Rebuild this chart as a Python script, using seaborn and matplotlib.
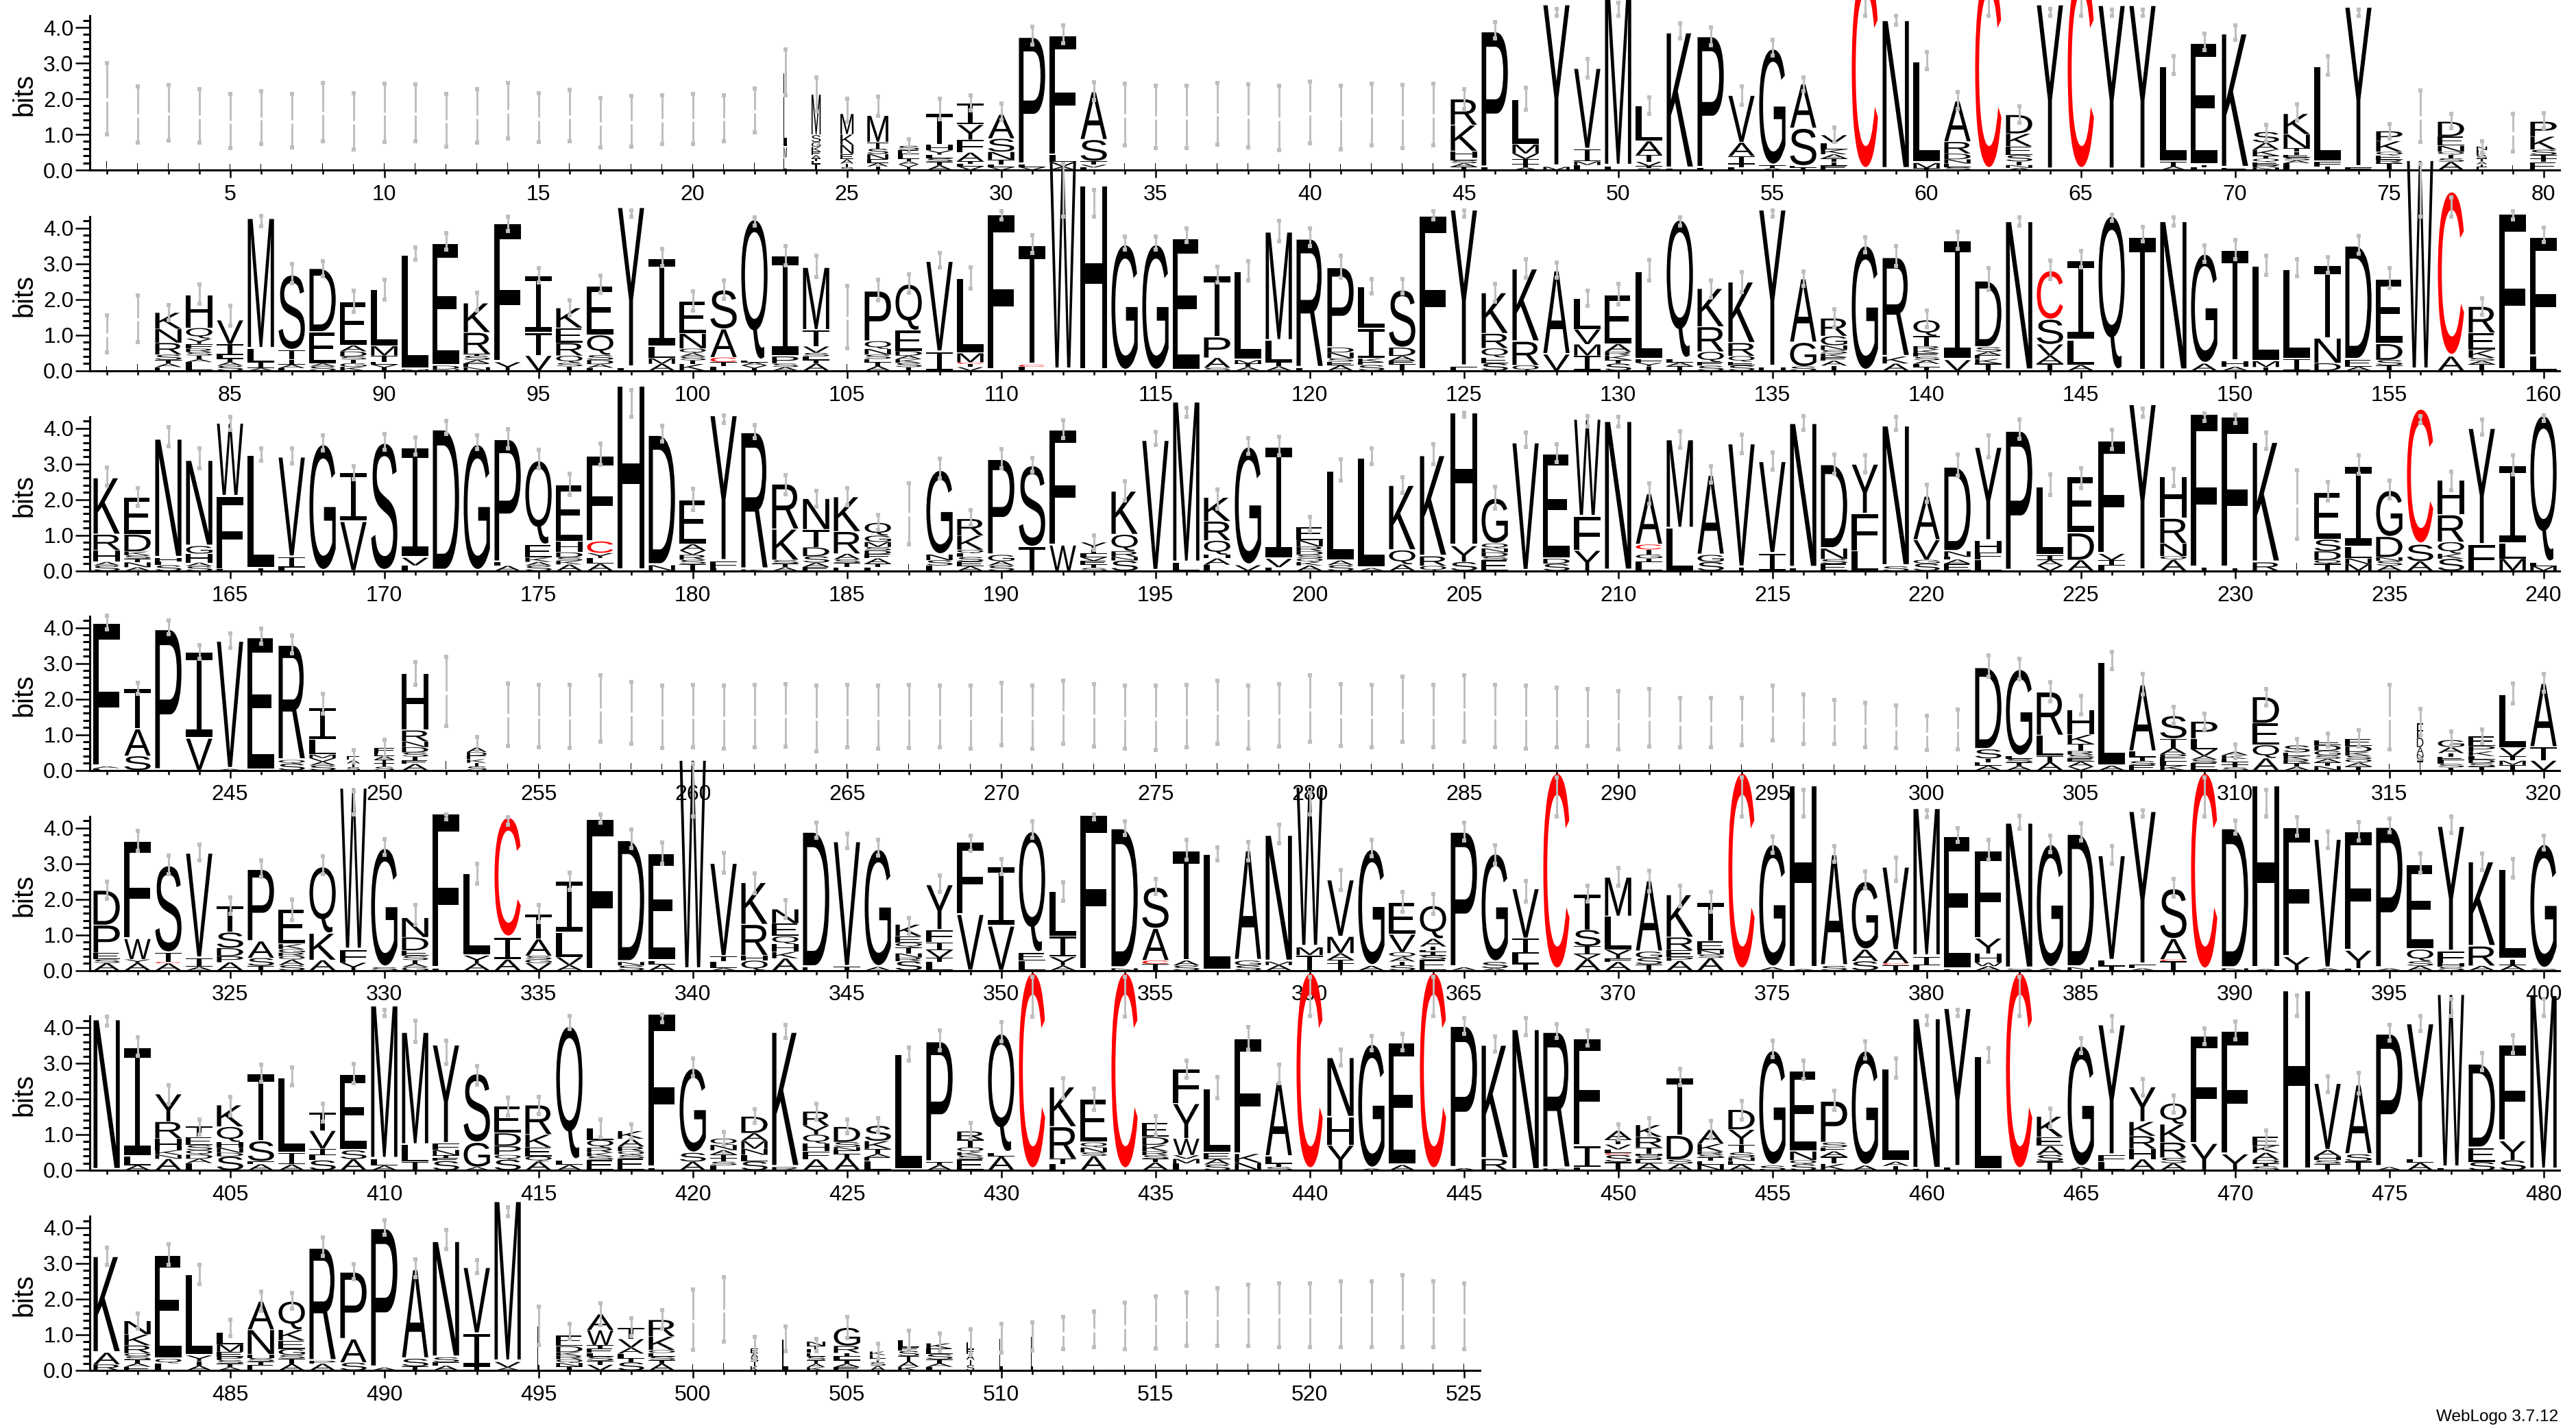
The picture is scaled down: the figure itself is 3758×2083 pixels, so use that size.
import matplotlib
matplotlib.use("Agg")
import matplotlib.pyplot as plt
import numpy as np
import pandas as pd
import seaborn as sns
from matplotlib.font_manager import FontProperties
from matplotlib.patches import PathPatch
from matplotlib.path import Path
from matplotlib.textpath import TextPath
from matplotlib.transforms import Affine2D
from matplotlib.ticker import MultipleLocator, FixedLocator

row1_stacks = ['L2.0','L1.56','L1.6','L1.52','L1.37','L1.47','L1.38','L1.62','L1.36','L1.6',
'L1.6','L1.39','L1.51','L1.67','L1.46','L1.52','L1.32','L1.36','L1.42','L1.43',
'L1.45','L1.67','L2.1 M.3 L.34','M1.15 S.2 G.13 K.13 E.1 A.1 T.07 L.07 I.18','M.58 K.29 N.26 E.15 A.12 T.1 S.08','M.75 T.18 S.15 N.15 E.1 A.1 I.1','S.12 E.12 L.12 I.08 A.08 V.08 T.08','T.88 H.16 Y.12 L.1 S.1 I.1 A.13','I.6 Y.42 F.36 A.24 T.08 L.07 V.1','A.68 S.37 N.22 T.13 L.08 V.08',
'P3.6 L.08 V.08','F3.38 L.2 V.12 A.1','A1.35 S.6 T.1 V.08 L.07','L1.55','L1.5','L1.49','L1.58','L1.52','L1.46','L1.61',
'L1.47','L1.55','L1.5','L1.55','R.73 K.73 H.18 E.08 S.08 A.1 T.09','P3.85 L.07','L1.27 M.26 V.15 T.14 I.1 A.07','Y4.6 M.09','V2.28 I.35 M.1 L.14','M5.0 L.1',
'L1.0 A.39 T.19 V.12 I.06 S.05','K3.85 L.04','P3.72 L.06','V1.33 A.38 I.23 T.08 L.08','G3.3 T.08 A.05','A1.25 S1.05 E.06 T.06','V.22 L.18 K.14 A.12 T.1 I.1 E.12','C5.6','N4.22 K.02','L2.87 M.15 I.05',
'A1.15 R.33 D.16 N.12 E.1 S.08','C5.6','D.53 K.36 E.24 S.18 T.1 N.08 A.06','Y4.69','C5.6','Y4.67','Y4.67','L2.7 T.13 A.1','E3.45 T.06 L.08','K3.8 E.06',
'S.3 A.2 K.17 T.08 Q.1 E.08 R.07 N.07','K.58 N.39 I.1 T.08 E.08 S.08 A.08 L.19','L2.7 F.13 I.1','Y4.55 F.07','P.28 K.3 Q.1 E.12 R.1 T.09 I.1','L1.5','D.42 E.26 N.17 Q.08 T.1 S.1 A.23','N.1 E.08 K.08 S.08 T.08 A.08 I.08 L.08','L1.05','P.42 K.37 S.15 I.1 T.1 E.22']
row1_err = [(1.0,3.0),(.77,2.35),(.82,2.38),(.77,2.27),(.61,2.13),(.74,2.21),(.63,2.13),(.8,2.44),(.58,2.15),(.78,2.43),
(.8,2.4),(.65,2.13),(.76,2.26),(.89,2.45),(.78,2.15),(.8,2.25),(.63,2.02),(.65,2.08),(.74,2.1),(.74,2.13),
(.8,2.1),(1.05,2.29),(2.1,3.38),(1.66,2.6),(1.35,2.0),(1.52,2.05),(.48,.86),(1.42,2.0),(1.68,2.1),(1.4,1.86),
(3.52,4.02),(3.56,4.06),(1.97,2.47),(.69,2.42),(.62,2.37),(.61,2.37),(.72,2.45),(.64,2.4),(.56,2.37),(.75,2.48),
(.57,2.37),(.69,2.42),(.62,2.38),(.69,2.42),(1.71,2.26),(3.69,4.16),(1.7,2.3),(4.33,4.52),(2.59,3.12),(4.33,4.7),
(1.58,2.04),(3.7,4.11),(3.5,4.0),(1.82,2.34),(3.22,3.65),(2.22,2.6),(.78,1.2),(4.32,5.42),(4.07,4.33),(2.83,3.31),
(1.71,2.19),(4.32,5.42),(1.33,1.78),(4.33,4.52),(4.32,5.42),(4.33,4.5),(4.33,4.5),(2.69,3.19),(3.37,3.83),(3.65,4.06),
(.81,1.26),(1.39,1.84),(2.67,3.2),(4.33,4.5),(.88,1.28),(.78,2.24),(1.17,1.58),(.48,.81),(.51,1.58),(1.17,1.6)]

row2_stacks = ['L1.03','L1.46','K.46 N.39 R.33 S.15 T.1 A.1 E.1','H.93 Q.3 Y.15 F.13 R.1 S.1 T.1 A.08 L.24','V.68 I.3 L.1 T.1 A.1 S.14','M3.7 L.37 I.17 A.07','S2.12 T.27 I.14 A.1 L.07','D1.8 E.88 A.08 S.12','E1.23 A.17 D.14 S.09 T.1 G.1 K.11','L1.6 M.27 T.17 E.08 V.08 I.09',
'L3.24 M.04','E3.46 D.1 N.04','K.83 R.6 T.05 S.12 A.1 E.1 N.1','F3.93 Y.24','I1.6 T.65 V.42','K.56 E.42 R.36 Q.2 S.1 T.12','E1.38 Q.56 S.14 D.12 A.1 L.08','Y4.55 L.08','I2.5 L.32 M.16 A.19','E.91 N.42 Q.13 A.1 S.1 T.1 K.19',
'S1.1 A.8 C.13 T.12 L.12','Q4.0 L.05 A.08 V.08 I.07','I2.84 P.2 S.1 A.1','M1.77 T.46 V.18 S.1 L.1 I.1 A.2','L1.5','P1.41 Q.22 N.16 S.12 E.1 T.1 A.13','Q1.3 E.58 D.13 A.1 K.1 S.12 T.1','V2.56 I.53','L2.12 M.26 C.04 I.09 V.1','F4.43',
'T3.38 C.06 L.11','W5.95','H5.25','G3.57','G3.57','E3.74','T1.74 P.58 A.28 S.08','L2.5 M.1 T.1 A.1','M3.08 L.6 I.12 A.12','R3.65 L.08',
'P2.26 D.14 N.16 S.1 E.1 A.15','L1.17 I.84 K.1 E.08 S.16','S1.62 D.24 A.13 E.1 T.18','F4.39','Y4.45 F.11','K1.15 R.41 Q.26 E.16 S.21','K2.05 R.67 Q.15','A2.36 V.46','L.87 V.42 M.32 I.42','E1.38 A.22 R.1 K.13 T.1 S.2',
'L2.47 F.11 Y.1 I.12','Q3.94 L.1 A.1 I.13','K1.08 R.7 Q.29 E.1 S.14','K1.72 R.37 Q.16 E.1 S.15','Y4.46 H.1','A1.8 G.67 S.12','R.5 G.26 N.13 S.1 K.1 E.1 A.14 T.14','G3.54','R2.8 K.2 A.2','Q.45 T.28 R.1 K.1 E.1 S.1 A.1 L.1 I.09',
'I3.37 V.3','D1.87 S.13 A.1 E.1 K.13 T.2','N4.23','C1.37 S.7 V.32 A.22 T.2','I2.24 L.7 A.16','Q4.38','T3.78','N4.23','G3.1 A.2','T3.13 H.16 A.11',
'L2.69 M.17 I.1','L2.53 I.33','T2.05 N.7 D.21','D3.22 E.2 A.11','E1.83 D.45 S.15 T.15','W5.97','C4.67 A.4','R.74 E.48 K.22 S.08 A.1 T.18','F4.44','F3.38 L.4']
row2_err = [(.51,1.55),(.81,2.11),(1.42,1.84),(1.87,2.42),(1.26,1.83),(4.06,4.34),(2.45,2.99),(2.65,3.08),(1.65,2.24),(2.0,2.56),
(3.1,3.46),(3.4,3.85),(1.68,2.19),(3.92,4.33),(2.48,2.87),(1.55,1.98),(2.19,2.66),(4.32,4.5),(2.93,3.42),(1.69,2.22),
(2.02,2.53),(4.08,4.31),(2.96,3.5),(2.63,3.23),(.62,2.38),(1.98,2.56),(2.18,2.7),(2.9,3.31),(2.31,2.9),(4.24,4.47),
(3.3,3.81),(4.32,5.8),(4.32,5.07),(3.4,3.76),(3.4,3.76),(3.6,3.99),(2.48,2.91),(2.54,3.08),(3.63,4.2),(3.5,3.99),
(2.61,3.22),(2.16,2.58),(2.16,2.58),(4.24,4.47),(4.32,4.5),(1.93,2.43),(2.6,3.12),(2.6,3.04),(1.83,2.24),(1.86,2.43),
(2.54,3.1),(4.08,4.31),(2.06,2.54),(2.21,2.77),(4.32,4.5),(2.38,2.79),(1.23,1.73),(3.33,3.75),(2.93,3.49),(1.23,1.68),
(3.42,3.9),(2.26,2.87),(4.07,4.31),(2.58,3.09),(2.9,3.35),(4.21,4.37),(3.62,4.04),(4.07,4.31),(3.06,3.51),(3.12,3.67),
(2.69,3.22),(2.64,3.12),(2.74,3.19),(3.28,3.79),(2.32,2.87),(4.32,5.8),(4.32,4.86),(1.58,2.03),(4.24,4.47),(3.6,4.02)]

row3_stacks = ['K1.6 R.44 H.33 A.1 S.15','E1.05 D.48 K.1 S.1 T.1 N.14 A.1','N3.36 H.11 L.1 S.16','N2.42 G.22 H.25 A.1 S.13','W2.06 F2.05 L.05','L3.2 I.07','V2.83 I.3 L.09','G3.58','I1.38 V1.39','S3.62',
'I3.12 V.22 L.15','D4.0','G3.58','P3.48 L.1 A.14','Q2.38 E.36 K.12 A.1 S.15','E1.6 H.3 D.14 S.1 K.1 A.18','F2.42 C.33 Y.14 L.16 A.2','H5.24','D3.68 N.16','E1.25 A.18 V.12 R.14 S.12 T.19',
'Y4.13 F.2 L.07','R3.88 K.04','R1.27 K.87 S.1 T.1 A.1','N.87 T.5 D.25 S.18 A.12 E.11','K.98 R.62 A.16 S.1 T.12 E.1','Q.36 G.18 M.14 S.1 D.1 E.12 A.15 T.1 L.1','L1.6','G2.38 N.16 S.15 L.15','R.47 K.4 Q.1 L.1 S.13 E.13 A.13','P2.7 G.18 A.12 S.15',
'S2.3 T.67','F3.26 W.72','Y.2 I.12 L.1 V.1 E.1 T.1 S.08','K1.22 Q.47 R.16 N.1 S.29','V3.7','M4.57 L.22','K.67 R.54 Q.4 H.1 A.18 L.17','G3.35 V.16','I3.17 V.24 L.1','E.38 N.18 R.13 D.1 S.1 Q.1 K.1 A.15']
row3_stacks += ['L2.54 A.13 S.16','L3.12 A.08','K1.83 Q.4 A.18','K2.85 R.27 Q.14','H3.77 Y.45 S.25','G1.27 Q.14 N.11 D.12 S.1 E.3','V3.63','E2.97 D.14 S.2','W2.75 F.96 Y.57','N4.24',
'A1.43 C.14 T.14 G.11 I.1 L.25','M2.5 L1.2','A2.25 G.2 S.25','V3.5 I.1','V2.6 I.49','N4.1 L.08','D2.37 N.3 S.13 E.2','Y1.39 F1.05 L.56','N3.98 S.13','A1.23 V.56 G.1 S.21',
'D2.38 N.16 L.07 A.12 E.2','Y2.64 H.34 F.2 L.31','P3.96','L1.93 I.14 A.15 V.15','E1.6 D.76 A.3','F3.19 V.18 I.15 L.15','Y4.72','H1.17 R.7 N.36 Q.1 A.31','F4.36 I.09','F4.28 I.08',
'K3.4 R.24','L1.86','E1.33 S.33 D.25 Q.1 T.2','I2.27 L.33 N.16 M.19','G1.3 D.58 N.1 S.13 A.15','C3.84 S.47 A.27','H.98 R.76 Q.33 K.14 S.34','Y3.3 F.73','I2.2 L.43 M.34','Q4.17 L.1 M.13']
row3_err = [(2.39,2.89),(1.82,2.33),(3.5,4.03),(2.87,3.43),(3.95,4.33),(3.09,3.44),(3.02,3.43),(3.38,3.8),(2.58,2.93),(3.4,3.84),
(3.27,3.75),(3.85,4.2),(3.42,3.8),(3.43,3.97),(2.87,3.39),(2.12,2.73),(2.97,3.58),(4.32,5.07),(3.62,4.07),(1.7,2.31),
(4.14,4.36),(3.72,4.09),(2.15,2.69),(1.81,2.24),(1.84,2.33),(1.14,1.57),(.74,2.46),(2.59,3.14),(1.28,1.71),(2.87,3.42),
(2.78,3.17),(3.73,4.23),(.59,.99),(1.98,2.51),(3.53,3.89),(4.32,4.58),(1.75,2.28),(3.28,3.72),(3.24,3.77),(1.1,1.52),
(2.54,3.13),(3.0,3.43),(2.19,2.62),(3.0,3.55),(4.32,4.44),(1.75,2.35),(3.48,3.87),(3.06,3.56),(4.06,4.35),(4.06,4.32),
(1.88,2.45),(3.45,3.92),(2.48,2.93),(3.31,3.82),(2.84,3.33),(3.96,4.35),(2.73,3.26),(2.77,3.24),(3.96,4.33),(1.93,2.42),
(2.66,3.26),(3.19,3.8),(3.71,4.25),(2.12,2.71),(2.33,2.88),(3.42,3.96),(4.32,4.55),(2.37,2.86),(4.2,4.42),(4.15,4.38),
(3.42,3.87),(.9,2.83),(1.97,2.49),(2.73,3.24),(2.03,2.54),(4.14,4.35),(2.26,2.78),(3.82,4.25),(2.71,3.24),(4.2,4.36)]

row4_stacks = ['F4.06 A.05 L.06','T1.14 A.76 S.4','P3.99','I2.43 V.9','V3.62 A.04','E3.77','R3.25 Q.1 S.19','I.89 L.42 M.1 V.1 A.1 S.14','E.1 A.1 T.1 S.09','F.12 E.1 A.1 I.1 T.1 S.1',
'H1.6 R.31 N.16 D.15 S.12 T.1 E.1 A.18','L2.2','A.13 D.1 E.1 K.1 T.1 S.11','L1.56','L1.52','L1.5','L1.73','L1.61','L1.5','L1.52',
'L1.49','L1.52','L1.54','L1.46','L1.52','L1.49','L1.5','L1.51','L1.49','L1.58',
'L1.49','L1.64','L1.54','L1.49','L1.47','L1.52','L1.64','L1.49','L1.54','L1.73',
'L1.55','L1.52','L1.71','L1.52','L1.73','L1.51','L1.49','L1.48','L1.48','L1.4',
'L1.47','L1.33','L1.33','L1.37','L1.6','L1.43','L1.35','L1.27','L1.2','L1.05',
'L1.15','D2.31 S.26 T.1 E.1 A.13','G2.45 L.08 S.1 T.1 A.12','R1.22 L.58 T.17 A.23','H.69 K.26 T.2 R.1 S.1 E.1 A.14 V.1','L2.93 A.13','A1.88 L.16 T.11 S.12 E.14','S.64 T.26 A.18 P.1 E.1 L.12 K.13','P.48 L.3 V.19 A.1 S.1 E.2','A.1 K.1 E.08 T.08 I.08 S.08',
'D.74 E.61 Q.37 A.34','S.2 E.1 K.1 R.1 T.1 A.1','E.15 D.15 G.13 S.1 A.1 T.1 N.12','E.2 D.17 K.1 S.1 Q.1 A.1 T.11','L1.49','F.42 D.26 A.19 N.1 S.1 T.26','G.2 A.17 T.1 E.1 L.1 S.1 I.08','E.27 P.15 K.13 L.1 D.1 S.1 T.1','L1.5 V.24 I.12 M.12 T.15','A1.8 T.38 V.27']
row4_err = [(3.95,4.33),(2.14,2.46),(3.82,4.2),(3.12,3.51),(3.43,3.84),(3.55,3.97),(3.28,3.79),(1.59,2.14),(.22,.56),(.38,.85),
(2.39,3.04),(1.25,3.19),(.54,.93),(.69,2.43),(.64,2.39),(.62,2.39),(.8,2.66),(.74,2.48),(.62,2.38),(.65,2.39),
(.6,2.38),(.65,2.39),(.67,2.41),(.54,2.37),(.65,2.39),(.6,2.37),(.62,2.39),(.65,2.37),(.6,2.37),(.71,2.45),
(.6,2.37),(.75,2.52),(.67,2.41),(.6,2.38),(.57,2.37),(.65,2.39),(.75,2.52),(.6,2.38),(.67,2.41),(.8,2.66),
(.69,2.41),(.65,2.39),(.8,2.63),(.65,2.39),(.8,2.66),(.64,2.39),(.6,2.38),(.65,2.32),(.69,2.28),(.58,2.23),
(.67,2.28),(.64,2.03),(.64,2.03),(.71,2.04),(.83,2.37),(.75,2.12),(.74,1.97),(.65,1.89),(.62,1.81),(.57,1.54),
(.59,1.7),(2.62,3.22),(2.55,3.13),(1.94,2.47),(1.56,2.09),(2.84,3.32),(2.12,2.7),(1.3,1.78),(1.15,1.59),(.34,.72),
(1.81,2.29),(.53,.87),(.66,1.04),(.66,1.12),(.58,2.39),(.98,1.72),(.69,1.09),(.76,1.15),(1.88,2.44),(2.2,2.71)]

row5_stacks = ['D.98 P.78 E.18 S.1 A.21','F2.75 W.58 Y.1 A.21','S2.46 T.26 C.04 A.2','V2.97 I.25 A.1','T.75 S.44 D.23 P.17 A.23','P2.03 A.47 S.22 T.13','E.98 K.14 G.1 R.1 Q.1 A.15 S.15','Q1.88 K.75 A.29','W4.6 F.35 Y.22','G3.37 S.09',
'N.55 D.37 E.15 S.12 T.1 A.1 G.09','F4.38 L.06','L2.32 Y.22 A.2','C3.4 I.62 A.31','T.7 A.47 S.1 G.1 V.21','I1.45 L.7 V.22 A.15','F4.29','D3.44 N.1 S.14','E3.03 L.1 A.17','W5.97',
'V2.64 I.14 L.18 A.07','K1.18 R.87 H.14 Q.28','N.4 E.36 Q.22 H.22 K.18 A.34','D3.83 E.09','V3.55 I.1','G3.33 A.1','K.33 E.18 Q.13 T.17 N.12 R.1 S.26','Y1.27 F.35 I.22 V.22 T.1 L.25','F2.03 V1.58','I1.67 V1.25',
'Q3.44 E.22 L.27','L1.27 I.58 Y.25 A.13','F4.4','D3.96 N.06','S1.16 A.9 C.1 T.18','T3.1 A.14 S.14','L3.3','A3.11 G.14 S.14','N3.58 M.1 A.15','W4.55 M.22 T.43',
'V1.6 M.47 A.18 I.1 T.2','G3.3 A.13','E.9 V.5 Q.14 A.12 T.1 S.15','Q.93 A.22 T.1 L.05 I.1 S.12 E.3','P3.83 A.09','G3.06 S.18 A.06','V1.4 I.43 L.29 T.18','C5.6','T1.01 S.46 I.22 V.14 A.32','M1.1 L.94 Y.24 F.1 A.24',
'A2.0 G.18 S.18 T.17','K1.2 R.36 E.2 P.1 A.27','T1.1 E.25 N.12 S.1 A.35','C5.6','G3.48 A.09','H5.2 A.04','A3.15 S.13','G1.92 A.33 S.26','V2.36 A.36 C.05 I.15','M4.2 I.25 L.14',
'E3.75 L.04','F2.48 Y.43 H.25 W.1 A.12','N4.13 S.05','G3.5 A.07','D3.77 N.09','V2.97 L.16 I.12','Y4.35 F.1 A.06','S1.41 A.58 C.05 T.26','C5.6','D3.96 N.06',
'H5.2 A.04','F3.66 Y.38','V3.66 A.06','F3.36 Y.5 L.06','P4.0 A.06','E2.4 Q.33 S.13 A.13','Y3.55 F.33 H.1 S.1','K2.39 R.55 A.13','L2.54 I.16 A.15','G3.52 S.05']
row5_err = [(2.01,2.49),(3.36,3.92),(2.7,3.23),(3.08,3.54),(1.58,2.05),(2.63,3.08),(1.41,1.99),(2.7,3.2),(4.37,5.04),(3.25,3.68),
(1.29,1.83),(4.24,4.37),(2.43,3.0),(4.08,4.3),(1.36,1.83),(2.27,2.74),(4.15,4.37),(3.43,3.95),(2.99,3.59),(4.32,5.8),
(2.74,3.3),(2.16,2.72),(1.47,1.98),(3.72,4.14),(3.43,3.83),(3.22,3.66),(1.04,1.47),(2.2,2.67),(3.36,3.78),(2.7,3.12),
(3.72,4.19),(1.96,2.47),(4.25,4.37),(3.8,4.19),(2.14,2.57),(3.1,3.66),(3.08,3.46),(3.08,3.61),(3.57,4.08),(4.37,5.0),
(2.27,2.81),(3.21,3.66),(1.65,2.2),(1.58,2.14),(3.64,4.15),(2.99,3.51),(1.94,2.52),(4.32,5.42),(1.93,2.37),(2.38,2.88),
(2.23,2.8),(1.8,2.38),(1.65,2.2),(4.32,5.42),(3.3,3.77),(4.32,5.07),(3.05,3.5),(2.3,2.79),(2.52,3.17),(4.3,4.5),
(3.6,4.0),(3.1,3.66),(3.97,4.33),(3.32,3.79),(3.64,4.12),(2.99,3.5),(4.32,4.5),(2.07,2.57),(4.32,5.42),(3.83,4.21),
(4.32,5.07),(3.79,4.3),(3.43,3.9),(3.64,4.17),(3.88,4.26),(2.74,3.28),(3.86,4.31),(2.81,3.28),(2.6,3.12),(3.39,3.78)]

row6_stacks = ['N4.27','I3.08 L.24 A.14','Y.78 R.47 H.33 K.13 N.11 A.32','T.3 E.22 S.15 Q.12 D.12 A.12 L.2','K.61 Q.43 H.16 N.14 D.1 S.39','T1.9 S.57 F.08 A.17','L2.12 I.33 A.16','T.51 V.51 I.18 L.14 S.28','E2.14 S.25 A.31','M4.35 L.18 A.13',
'M3.19 L.47 I.24','Y2.79 F.18 N.15 T.08 E.08 S.26','S1.94 G.69 A.09','E.76 D.36 P.25 Q.13 S.3','R.83 K.36 E.25 Q.14 A.25','Q3.8 L.13 A.15','L.33 Q.22 R.14 K.1 S.1 E.29','K.22 A.22 R.13 Q.1 S.1 E.33','F4.38 L.06','G2.39 S.25 A.24',
'Q.18 N.15 A.12 I.1 T.1 S.1 L.14','D.47 A.22 M.22 N.17 L.18 S.25','K3.82 R.09','R.4 Y.25 Q.25 H.22 F.22 A.31','D.43 S.14 N.1 E.1 T.1 A.35','S.43 K.22 T.14 A.1 E.1 L.26','L3.28','P3.41 T.08 A.15','R.23 T.22 Q.13 K.1 S.1 E.31','Q3.37 L.1 A.39',
'C5.6','K1.12 R.9 T.14 L.18','E1.21 Q.14 N.14 S.1 A.4','C5.6','E.4 D.22 K.18 R.11 S.1 T.1 A.22','F.98 Y.98 W.47 V.1 M.13 L.19','L1.81 E.18 A.15 S.16','F3.26 K.25 N.21','A2.1 L.2 T.1 S.09','C5.6']
row6_stacks += ['N1.67 H.8 Y.7','G3.52 A.05','E3.46 A.15','C5.6','P4.02 A.06','K3.22 R.32','N3.99','R3.86 K.05','F3.04 I.6 L.08','A.25 I.14 V.14 L.1 C.05 S.2 T.23',
'K.34 R.29 T.18 H.06 S.1 E.1 A.2','T1.64 D.67 S.12 A.18','A.4 K.22 R.08 S.08 T.1 E.1 N.16','D.56 Y.42 T.22 S.14 N.1 E.1 A.16','G3.26 S.13','E2.28 N.25 Q.11 S.17','P1.16 S.14 E.11 A.15 T.2 K.18','G3.25 A.13','L2.62 A.12 I.12','N4.27 L.03',
'Y4.51 L.08','L3.22','C5.6','K.58 E.25 A.25 S.18 T.25','G3.43 A.09','Y3.7 F.18 L.24','Y.98 K.4 R.36 H.29 A.31','Q.59 K.51 R.43 S.15 A.2','F3.04 Y.75','F3.48 Y.45',
'E.25 K.2 A.2 D.1 T.08 S.11','H5.09','V1.88 A.18 H.11 S.1 T.18','A1.96 S.2 T.25','P3.77 A.09','Y3.84 L.1 A.21','W4.93 L.06','D2.37 E.4 S.23','F2.72 Y.54 S.28','M4.96']
row6_err = [(4.05,4.3),(3.21,3.74),(1.87,2.38),(1.0,1.43),(1.54,2.05),(2.49,2.96),(2.38,2.88),(1.36,1.87),(2.45,2.99),(4.32,4.5),
(3.6,4.19),(2.99,3.64),(2.41,2.92),(1.54,2.03),(1.58,2.05),(3.97,4.33),(.93,1.43),(.89,1.29),(4.15,4.37),(2.63,3.14),
(.71,1.07),(1.33,1.72),(3.72,4.08),(1.43,1.87),(1.04,1.42),(1.07,1.47),(3.07,3.45),(3.36,3.93),(.89,1.33),(3.61,4.15),
(4.31,5.42),(2.01,2.58),(1.69,2.29),(4.31,5.42),(1.0,1.52),(2.59,3.07),(2.01,2.61),(3.39,4.01),(2.45,2.96),(4.32,5.42),
(2.94,3.39),(3.36,3.77),(3.36,3.83),(4.32,5.42),(3.83,4.26),(3.32,3.75),(3.79,4.26),(3.72,4.1),(3.5,3.93),(.86,1.29),
(1.0,1.47),(2.38,2.85),(.93,1.38),(1.43,1.94),(3.17,3.64),(2.56,3.07),(1.69,2.23),(3.14,3.61),(2.59,3.14),(4.08,4.33),
(4.32,4.5),(3.03,3.43),(4.32,5.42),(1.22,1.74),(3.28,3.72),(3.9,4.33),(2.09,2.56),(1.62,2.09),(3.54,3.99),(3.68,4.17),
(.64,1.11),(4.32,4.9),(2.2,2.63),(2.16,2.74),(3.64,4.08),(3.9,4.33),(4.32,4.8),(2.81,3.28),(3.28,3.79),(4.32,4.8)]

row7_stacks = ['K2.72 A.33 R.17','N.38 K.31 R.22 O.08 S.1 T.1 A.1 E.1','E2.92 Q.13 L.2','L2.28 Y.16 T.13 A.13','L.34 M.21 E.13 P.1 S.1 T.1 A.09','A.8 N.69 H.1 S.1 T.1 E.15','Q.8 K.3 E.24 G.17 S.1 T.15 A.18','R3.19 P.08 A.19','P1.89 A.66 S.22','P3.94 A.08',
'A2.52 S.22 T.11','N3.28 S.14 F.1 A.13','V1.86 I.93 T.11','M4.55 V.16 A.08','L1.25','E.3 D.17 K.1 R.1 Q.1 N.1 T.11','A.45 W.42 I.1 E.12 L.1 S.12 T.11 V.16','T.32 V.24 A.17 L.14 I.1 S.23','R.47 K.38 O.08 E.1 S.1 T.1 A.19','L1.41',
'L1.7','E.14 A.12 S.12 T.12 K.12','L.88','N.12 I.1 L.1 E.1 S.1 T.1 A.1 K.09','G.51 R.2 I.1 L.1 T.1 A.1 E.09','K.1 E.1 T.1 S.1 A.13','L.2 E.1 S.15 T.15 A.15 K.1','K.15 E.15 S.15 T.11 A.1 L.1','L.2 E.15 A.15 T.15 S.15','L.9',
'L.95','L1.05','L1.15','L1.25','L1.35','L1.45','L1.5','L1.55','L1.55','L1.55',
'L1.58','L1.58','L1.65','L1.58','L1.55']
row7_err = [(2.97,3.44),(1.17,1.6),(2.97,3.54),(2.42,2.96),(.96,1.42),(1.68,2.21),(1.74,2.17),(3.22,3.73),(2.56,2.99),(3.81,4.21),
(2.61,3.11),(3.41,3.94),(2.74,3.09),(4.32,4.58),(.72,1.79),(.89,1.31),(1.26,1.89),(.97,1.46),(1.17,1.69),(.57,2.26),
(.8,2.61),(.3,.94),(.53,1.23),(.53,.89),(.91,1.5),(.32,.75),(.62,1.12),(.54,1.04),(.45,1.15),(.5,1.3),
(.55,1.35),(.6,1.5),(.65,1.66),(.6,1.9),(.62,2.07),(.7,2.2),(.7,2.3),(.7,2.4),(.65,2.45),(.65,2.45),
(.65,2.5),(.65,2.5),(.65,2.67),(.65,2.5),(.6,2.45)]

row_stacks = [row1_stacks,row2_stacks,row3_stacks,row4_stacks,row5_stacks,row6_stacks,row7_stacks]
row_err = [row1_err,row2_err,row3_err,row4_err,row5_err,row6_err,row7_err]
row_starts = [1,81,161,241,321,401,481]
y_tick_labels = ['0.0','1.0','2.0','3.0','4.0']
thin_positions = list(range(1,23))+list(range(34,45))+[76,79,81,82,105,187,232,252]+list(range(254,302))+[315,500,501]+list(range(512,526))
partial_widths = {23:.12,24:.35,25:.5,26:.8,27:.8,78:.4,249:.5,250:.75,253:.75,316:.25,495:.08,502:.3,503:.22,504:.7,506:.6,507:.8,509:.3,510:.15,511:.06}

W, H = 3758, 2083
PX_PER_UNIT, PX_PER_BIT = 45.0, 52.0
LEFT_PX, X0_PX = 131.0, 155.6
BASE_PX = [248, 540.7, 832.7, 1123.6, 1415.6, 1707, 1999]
YMAX = 4.32
DPI = 100
LETTER_W = .85
GREY = '#BEBEBE'
FONT = FontProperties(family='Liberation Sans')

sns.set_theme(style='white')
plt.rcParams['font.family'] = ['Liberation Sans', 'DejaVu Sans']
fig = plt.figure(figsize=(W/DPI, H/DPI), dpi=DPI, facecolor='white')

# The reference's typeface draws I with top and bottom bars, which Liberation Sans lacks.
SERIF_I = Path([(0,0),(1,0),(1,.09),(.6,.09),(.6,.91),(1,.91),(1,1),(0,1),(0,.91),(.4,.91),(.4,.09),(0,.09),(0,0)], closed=True)
glyphs = {}
def glyph(ch):
    if ch not in glyphs:
        p = SERIF_I if ch == 'I' else TextPath((0, 0), ch, size=1, prop=FONT)
        glyphs[ch] = (p, p.get_extents())
    return glyphs[ch]

def draw_letter(ax, ch, x, base, w, h):
    p, e = glyph(ch)
    tr = Affine2D().translate(-e.x0, -e.y0).scale(w/e.width, h/e.height).translate(x-w/2, base)
    ax.add_patch(PathPatch(p, transform=tr+ax.transData, fc='#FF0000' if ch == 'C' else 'black',
                           lw=0, clip_on=False, zorder=2))

for r, start in enumerate(row_starts):
    stacks, err = row_stacks[r], row_err[r]
    n = len(stacks)
    xlo = start-(X0_PX-LEFT_PX)/PX_PER_UNIT
    xhi = start+n-1+.53
    wpx = (xhi-xlo)*PX_PER_UNIT
    hpx = YMAX*PX_PER_BIT
    ax = fig.add_axes([LEFT_PX/W, 1-BASE_PX[r]/H, wpx/W, hpx/H], facecolor='none')
    positions = np.arange(start, start+n)
    lows = [e[0] for e in err]
    highs = [e[1] for e in err]
    centers = []
    for pos, s in zip(positions, stacks):
        frac = .045 if pos in thin_positions else partial_widths.get(int(pos), 1.0)
        toks = [(t[0], float(t[1:])) for t in s.split()]
        base = sum(v for _, v in toks)
        centers.append(base)
        for ch, v in toks:
            base -= v
            draw_letter(ax, ch, pos, base+v*.015, LETTER_W*frac, v*.97)
    for pos, lo, hi, c in zip(positions, lows, highs, centers):
        if pos in thin_positions:
            ax.vlines(pos, lo, c-.07, color=GREY, lw=2.1, zorder=3, clip_on=False)
            ax.vlines(pos, c+.02, hi, color=GREY, lw=2.1, zorder=3, clip_on=False)
        else:
            ax.vlines(pos, lo, hi, color=GREY, lw=2.1, zorder=3, clip_on=False)
    caps = pd.DataFrame({'pos': np.r_[positions, positions], 'cap': np.r_[lows, highs]})
    sns.scatterplot(data=caps, x='pos', y='cap', marker='s', s=14, color=GREY, linewidth=0,
                    ax=ax, zorder=3, clip_on=False, legend=False)
    ax.set_xlim(xlo, xhi)
    ax.set_ylim(0, YMAX)
    ax.set_xlabel('')
    ax.set_ylabel('')
    ax.xaxis.set_major_locator(FixedLocator([p for p in positions if p % 5 == 0]))
    ax.xaxis.set_minor_locator(FixedLocator([p for p in positions if p % 5 != 0]))
    ax.set_xticklabels([str(p) for p in positions if p % 5 == 0])
    ax.yaxis.set_major_locator(MultipleLocator(1))
    ax.yaxis.set_minor_locator(MultipleLocator(.2))
    ax.set_yticks([0, 1, 2, 3, 4], labels=y_tick_labels)
    ax.tick_params(axis='x', which='major', length=8, width=1.8, labelsize=23, pad=7, bottom=True, color='black', labelcolor='black')
    ax.tick_params(axis='x', which='minor', length=4.3, width=1.8, bottom=True, color='black')
    ax.tick_params(axis='y', which='major', length=15, width=1.8, labelsize=23, pad=2, left=True, color='black', labelcolor='black')
    ax.tick_params(axis='y', which='minor', length=7.2, width=2.2, left=True, color='black')
    sns.despine(ax=ax)
    for side in ('left', 'bottom'):
        ax.spines[side].set_linewidth(2.2)
        ax.spines[side].set_color('black')
        ax.spines[side].set_zorder(4)
    ax.patch.set_alpha(0)
    ax.grid(False)
    fig.text(35/W, 1-(BASE_PX[r]-110)/H, 'bits', rotation=90, fontsize=28.7, color='black', ha='center', va='center')

fig.text(3732/W, 1-2067/H, 'WebLogo 3.7.12', fontsize=17.6, color='black', ha='right', va='center')
fig.savefig('out.png', dpi=DPI, facecolor='white')
